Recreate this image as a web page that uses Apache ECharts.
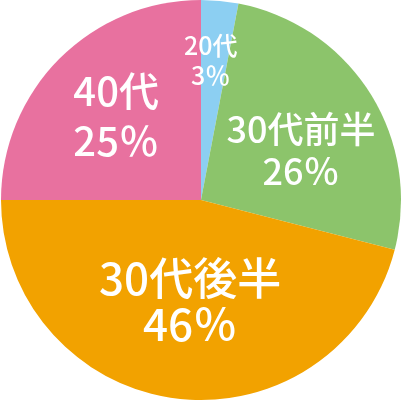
<!DOCTYPE html>
<html>
<head>
<meta charset="utf-8">
<script src="https://cdn.jsdelivr.net/npm/echarts@6/dist/echarts.min.js"></script>
<style>
  html, body { margin: 0; padding: 0; background: #fff; }
  #chart { width: 402px; height: 402px; }
</style>
</head>
<body>
<div id="chart"></div>
<script>
// Age groups, share in percent
const categories = ['20代', '30代前半', '30代後半', '40代'];
const shares = [3, 26, 46, 25];
const colors = ['#8ccff2', '#8cc46b', '#f2a200', '#e8719f'];

const chart = echarts.init(document.getElementById('chart'));

// label sizes follow the slice size in the original
const fontSizes = [25, 36, 44, 40];
const lineHeights = [30, 42, 46, 50];
// small nudges away from the default mid-radius spot
const nudges = [[0, -37], [13, 6], [2, -1], [-12, -11]];

const option = {
  animation: false,
  series: [
    {
      type: 'pie',
      center: [201, 200],
      radius: [0, 200],
      startAngle: 90,
      clockwise: true,
      silent: true,
      data: categories.map((name, i) => ({
        name,
        value: shares[i],
        itemStyle: { color: colors[i] },
        label: { fontSize: fontSizes[i], lineHeight: lineHeights[i] },
      })),
      label: {
        show: true,
        position: 'inside',
        color: '#fff',
        fontFamily: 'Noto Sans CJK JP',
        fontWeight: 500,
        align: 'center',
        formatter: (p) => `${p.name}\n${p.value}％`,
      },
      labelLine: { show: false },
      labelLayout: (params) => ({
        dx: nudges[params.dataIndex][0],
        dy: nudges[params.dataIndex][1],
      }),
    },
  ],
};

chart.setOption(option);
</script>
</body>
</html>
